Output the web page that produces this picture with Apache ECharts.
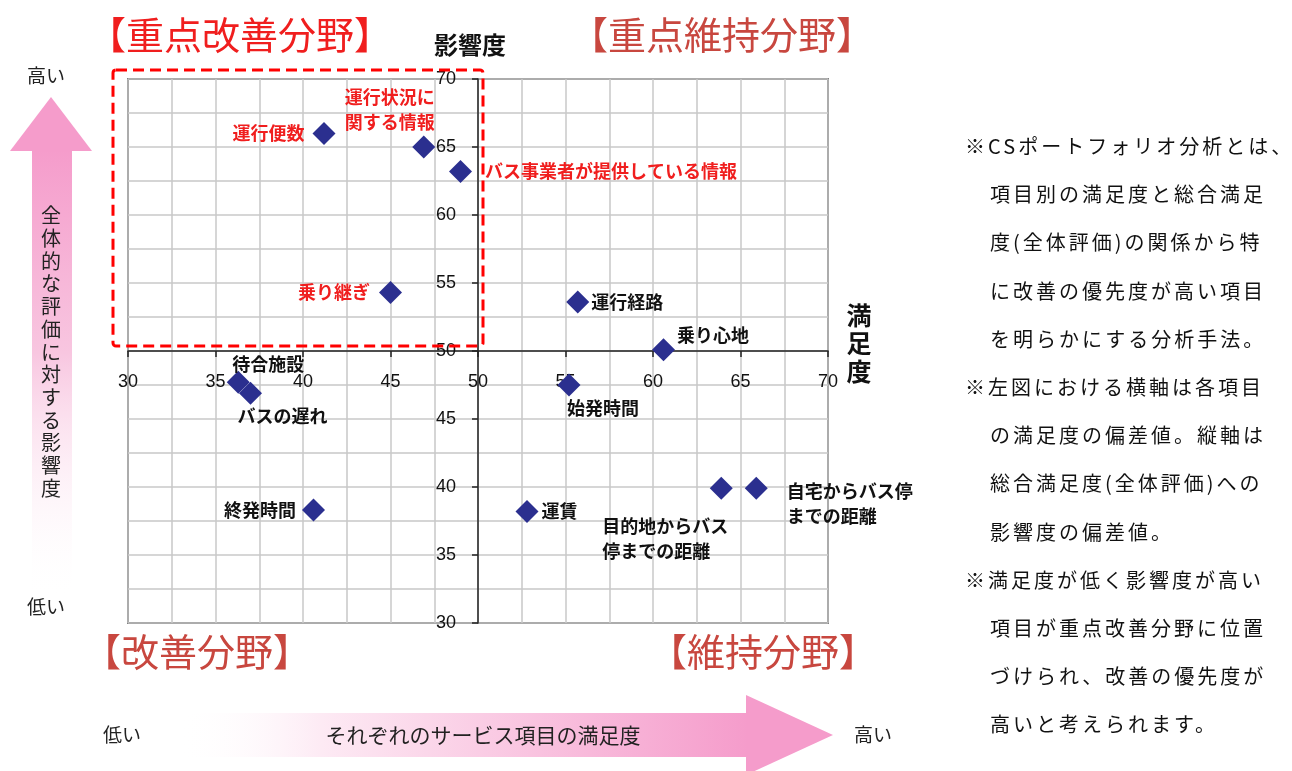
<!DOCTYPE html>
<html>
<head>
<meta charset="utf-8">
<script src="https://cdn.jsdelivr.net/npm/echarts/dist/echarts.min.js"></script>
<style>
  html, body { margin: 0; padding: 0; background: #fff; }
  #wrap { position: relative; width: 1292px; height: 771px; overflow: hidden; }
  #chart { position: absolute; left: 0; top: 0; width: 1292px; height: 771px; }
  #note { position: absolute; left: 965px; top: 122px; font-family: "Noto Sans CJK JP", sans-serif;
          font-size: 20px; line-height: 48.2px; letter-spacing: 3px; color: #111; white-space: nowrap; }
  #note .i { padding-left: 25px; }
</style>
</head>
<body>
<div id="wrap">
  <div id="chart"></div>
  <div id="note"></div>
</div>
<script>
// ---- data ----
const itemNames = [
  '運行便数', '運行状況に\n関する情報', 'バス事業者が提供している情報', '乗り継ぎ',
  '運行経路', '乗り心地', '待合施設', 'バスの遅れ', '終発時間', '始発時間', '運賃',
  '目的地からバス\n停までの距離', '自宅からバス停\nまでの距離'
];
const satisfaction = [41.2, 46.9, 49.0, 45.0, 55.7, 60.6, 36.3, 37.0, 40.6, 55.2, 52.8, 63.9, 65.9];
const impact       = [66.0, 65.0, 63.2, 54.3, 53.6, 50.1, 47.7, 46.9, 38.3, 47.5, 38.2, 39.9, 39.9];
const axisMin = 30, axisMax = 70, axisStep = 5, center = 50;

const quadrantTitles = ['【重点改善分野】', '【重点維持分野】', '【改善分野】', '【維持分野】'];
const noteLines = [
  ['※CSポートフォリオ分析とは、', 0], ['項目別の満足度と総合満足', 1], ['度(全体評価)の関係から特', 1],
  ['に改善の優先度が高い項目', 1], ['を明らかにする分析手法。', 1],
  ['※左図における横軸は各項目', 0], ['の満足度の偏差値。縦軸は', 1], ['総合満足度(全体評価)への', 1],
  ['影響度の偏差値。', 1],
  ['※満足度が低く影響度が高い', 0], ['項目が重点改善分野に位置', 1], ['づけられ、改善の優先度が', 1],
  ['高いと考えられます。', 1]
];

// ---- label placement (style only) ----
const labelPlace = [
  { position: 'left', distance: 8 },
  { position: 'top', distance: 1, offset: [-34, 0] },
  { position: 'right', distance: 13 },
  { position: 'left', distance: 9 },
  { position: 'right', distance: 2 },
  { position: 'right', distance: 2, offset: [0, -14] },
  { position: 'top', distance: 0, offset: [30, 6] },
  { position: 'bottom', distance: 0, offset: [32, -1] },
  { position: 'left', distance: 6 },
  { position: 'bottom', distance: 0, offset: [34, -1] },
  { position: 'right', distance: 3 },
  { position: 'bottom', distance: 14, offset: [-119, 0], align: 'left' },
  { position: 'right', distance: 19, offset: [0, 15] }
];

document.getElementById('note').innerHTML = noteLines.map(function (l) {
  return '<div class="' + (l[1] ? 'i' : '') + '">' + l[0] + '</div>';
}).join('');

const seriesData = itemNames.map(function (n, i) {
  const red = satisfaction[i] < center && impact[i] > center;
  return {
    name: n,
    value: [satisfaction[i], impact[i]],
    label: Object.assign({ color: red ? '#f01e1e' : '#111' }, labelPlace[i])
  };
});

const chart = echarts.init(document.getElementById('chart'), null, { renderer: 'canvas' });
const G = { left: 128, top: 79, width: 700, height: 544 };
const gridLine = { color: '#c8c8c8', width: 1.5 };
const axisFont = { fontFamily: 'Liberation Sans, Arial, sans-serif', fontSize: 18, color: '#111' };

const option = {
  animation: false,
  backgroundColor: '#fff',
  grid: { left: G.left, top: G.top, width: G.width, height: G.height, show: true,
          borderColor: '#222', borderWidth: 1.5, backgroundColor: 'transparent' },
  xAxis: {
    type: 'value', min: axisMin, max: axisMax, interval: axisStep, position: 'bottom',
    offset: -(G.height * (center - axisMin) / (axisMax - axisMin)),
    axisLine: { show: true, onZero: false, lineStyle: { color: '#222', width: 1.5 } },
    axisTick: { show: true, length: 6, lineStyle: { color: '#222', width: 1.5 } },
    axisLabel: Object.assign({ margin: 22 }, axisFont),
    splitLine: { show: true, lineStyle: gridLine },
    minorTick: { show: false, splitNumber: 2 },
    minorSplitLine: { show: true, lineStyle: gridLine }
  },
  yAxis: {
    type: 'value', min: axisMin, max: axisMax, interval: axisStep, position: 'left',
    offset: -(G.width * (center - axisMin) / (axisMax - axisMin)),
    axisLine: { show: true, onZero: false, lineStyle: { color: '#222', width: 1.5 } },
    axisTick: { show: true, length: 6, lineStyle: { color: '#222', width: 1.5 } },
    axisLabel: Object.assign({ margin: 22 }, axisFont),
    splitLine: { show: true, lineStyle: gridLine },
    minorTick: { show: false, splitNumber: 2 },
    minorSplitLine: { show: true, lineStyle: gridLine }
  },
  series: [{
    type: 'scatter',
    symbol: 'diamond',
    symbolSize: 23,
    itemStyle: { color: '#2b2f8f', opacity: 1 },
    z: 5,
    label: {
      show: true,
      formatter: '{b}',
      fontFamily: '"Noto Sans CJK JP", sans-serif',
      fontSize: 18,
      fontWeight: 'bold',
      lineHeight: 25
    },
    data: seriesData
  }]
};
chart.setOption(option);

// ---- decorations ----
const c = chart.convertToPixel({ gridIndex: 0 }, [center, center]);
const pink = '#f59ccb';
const txt = function (text, x, y, size, fill, weight, extra) {
  return { type: 'text', z: 20, style: Object.assign({
    text: text, x: x, y: y, fill: fill, fontSize: size, fontWeight: weight || 'normal',
    fontFamily: '"Noto Sans CJK JP", sans-serif', align: 'center', verticalAlign: 'middle'
  }, extra || {}) };
};
chart.setOption({
  graphic: [
    // dashed box around 重点改善分野
    { type: 'rect', z: 15, shape: { x: G.left - 15, y: G.top - 9, width: c[0] + 5 - (G.left - 15), height: c[1] - 5 - (G.top - 9), r: 3 },
      style: { fill: 'none', stroke: '#ff0000', lineWidth: 3, lineDash: [11, 6] } },
    // vertical pink arrow
    { type: 'polygon', z: 1, shape: { points: [[32, 150], [72, 150], [72, 600], [32, 600]] },
      style: { fill: { type: 'linear', x: 0, y: 0, x2: 0, y2: 1, colorStops: [
        { offset: 0, color: pink }, { offset: 0.45, color: '#f8c6e0' }, { offset: 1, color: 'rgba(255,255,255,0)' }] } } },
    { type: 'polygon', z: 1, shape: { points: [[51, 97], [92, 151], [10, 151]] }, style: { fill: pink } },
    // horizontal pink arrow
    { type: 'polygon', z: 1, shape: { points: [[180, 713], [748, 713], [748, 757], [180, 757]] },
      style: { fill: { type: 'linear', x: 0, y: 0, x2: 1, y2: 0, colorStops: [
        { offset: 0, color: 'rgba(255,255,255,0)' }, { offset: 0.25, color: '#fdeaf4' }, { offset: 1, color: pink }] } } },
    { type: 'polygon', z: 1, shape: { points: [[746, 695], [833, 735], [746, 775]] }, style: { fill: pink } },
    // quadrant titles
    txt(quadrantTitles[0], 240, 35, 38, '#f01e1e'),
    txt(quadrantTitles[1], 722, 35, 38, '#c8473f'),
    txt(quadrantTitles[2], 197, 652, 38, '#c8473f'),
    txt(quadrantTitles[3], 763, 652, 38, '#c8473f'),
    // axis names
    txt('影響度', 470, 45, 24, '#111', 'bold'),
    txt('満\n足\n度', 859, 343, 25, '#111', 'bold', { lineHeight: 28 }),
    // side arrow labels
    txt('高い', 46, 76, 19, '#222'),
    txt('低い', 46, 607, 19, '#222'),
    txt('全\n体\n的\nな\n評\n価\nに\n対\nす\nる\n影\n響\n度', 51, 352, 20, '#222', 'normal', { lineHeight: 22.7 }),
    txt('低い', 122, 735, 19, '#222'),
    txt('それぞれのサービス項目の満足度', 483, 735, 21, '#222'),
    txt('高い', 873, 735, 19, '#222')
  ]
});
</script>
</body>
</html>
